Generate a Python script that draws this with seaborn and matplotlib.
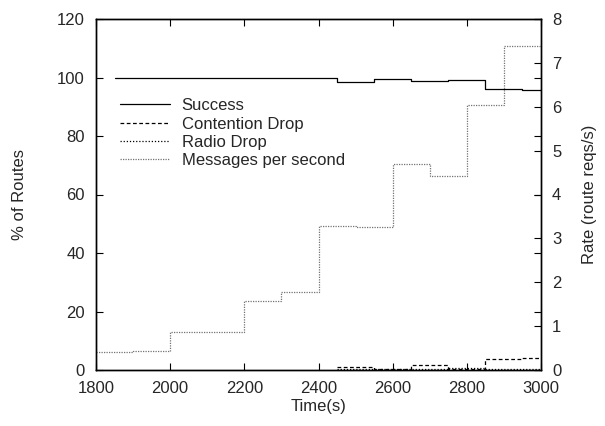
import numpy as np
import pandas as pd
import matplotlib
matplotlib.use("Agg")
import matplotlib.pyplot as plt
import seaborn as sns

# step data (last value repeated to close the step at 3000)
succ_t = [1850, 2450, 2550, 2650, 2750, 2850, 2950, 3000]
succ_v = [100.0, 98.6, 99.6, 98.8, 99.1, 96.0, 95.8, 95.8]

drop_t = [2450, 2550, 2650, 2750, 2850, 2950, 3000]
contention_v = [0.9, 0.4, 1.7, 0.5, 3.6, 4.1, 4.1]
radio_v = [0.2, 0.3, 0.3, 0.6, 0.3, 0.3, 0.3]

rate_t = [1800, 1900, 2000, 2100, 2200, 2300, 2400, 2500, 2600, 2700, 2800, 2900, 3000]
rate_v = [0.40, 0.43, 0.86, 0.87, 1.58, 1.78, 3.29, 3.27, 4.69, 4.42, 6.04, 7.39, 7.39]

sns.set_style("white")
plt.rcParams['font.family'] = ['Liberation Sans', 'DejaVu Sans']
plt.rcParams['font.size'] = 12

fig = plt.figure(figsize=(6.05, 4.26), dpi=100)
ax = fig.add_axes([96/605, 56/426, 445/605, 351/426])
ax2 = ax.twinx()

lw = 0.9
sns.lineplot(x=succ_t, y=succ_v, ax=ax, color='black', lw=lw, drawstyle='steps-post',
             label='Success', legend=False)
sns.lineplot(x=drop_t, y=contention_v, ax=ax, color='black', lw=lw, drawstyle='steps-post',
             linestyle=(0, (3, 2)), label='Contention Drop', legend=False)
sns.lineplot(x=drop_t, y=radio_v, ax=ax, color='black', lw=lw, drawstyle='steps-post',
             linestyle=(0, (1, 1.5)), label='Radio Drop', legend=False)
sns.lineplot(x=rate_t, y=rate_v, ax=ax2, color='0.45', lw=lw, drawstyle='steps-post',
             linestyle=(0, (1, 1)), label='Messages per second', legend=False)

ax.set_xlim(1800, 3000)
ax.set_ylim(0, 120)
ax2.set_ylim(0, 8)
ax.set_xticks(np.arange(1800, 3001, 200))
ax.set_yticks(np.arange(0, 121, 20))
ax2.set_yticks(np.arange(0, 9, 1))

for a in (ax, ax2):
    for s in a.spines.values():
        s.set_color('black')
        s.set_linewidth(1.0)
ax.tick_params(axis='both', direction='in', length=5, width=0.8, color='black',
               pad=8, labelsize=12, top=True, right=True, bottom=True, left=True)
ax2.tick_params(axis='y', direction='in', length=5, width=0.8, color='black',
                pad=8, labelsize=12, left=False, right=True)

ax.set_xlabel('Time(s)', fontsize=12)
ax.set_ylabel('% of Routes', fontsize=12)
ax2.set_ylabel('Rate (route reqs/s)', fontsize=12)
ax.xaxis.set_label_coords(0.5, -0.083)
ax.yaxis.set_label_coords(-0.155, 0.5)
ax2.yaxis.set_label_coords(1.092, 0.5)

h1, l1 = ax.get_legend_handles_labels()
h2, l2 = ax2.get_legend_handles_labels()
ax2.legend(h1 + h2, l1 + l2, loc='upper left', bbox_to_anchor=(0.054, 0.774),
           frameon=False, borderpad=0, borderaxespad=0, handlelength=3,
           handletextpad=0.7, labelspacing=0.2, fontsize=12)

fig.savefig('out.png', dpi=100)
